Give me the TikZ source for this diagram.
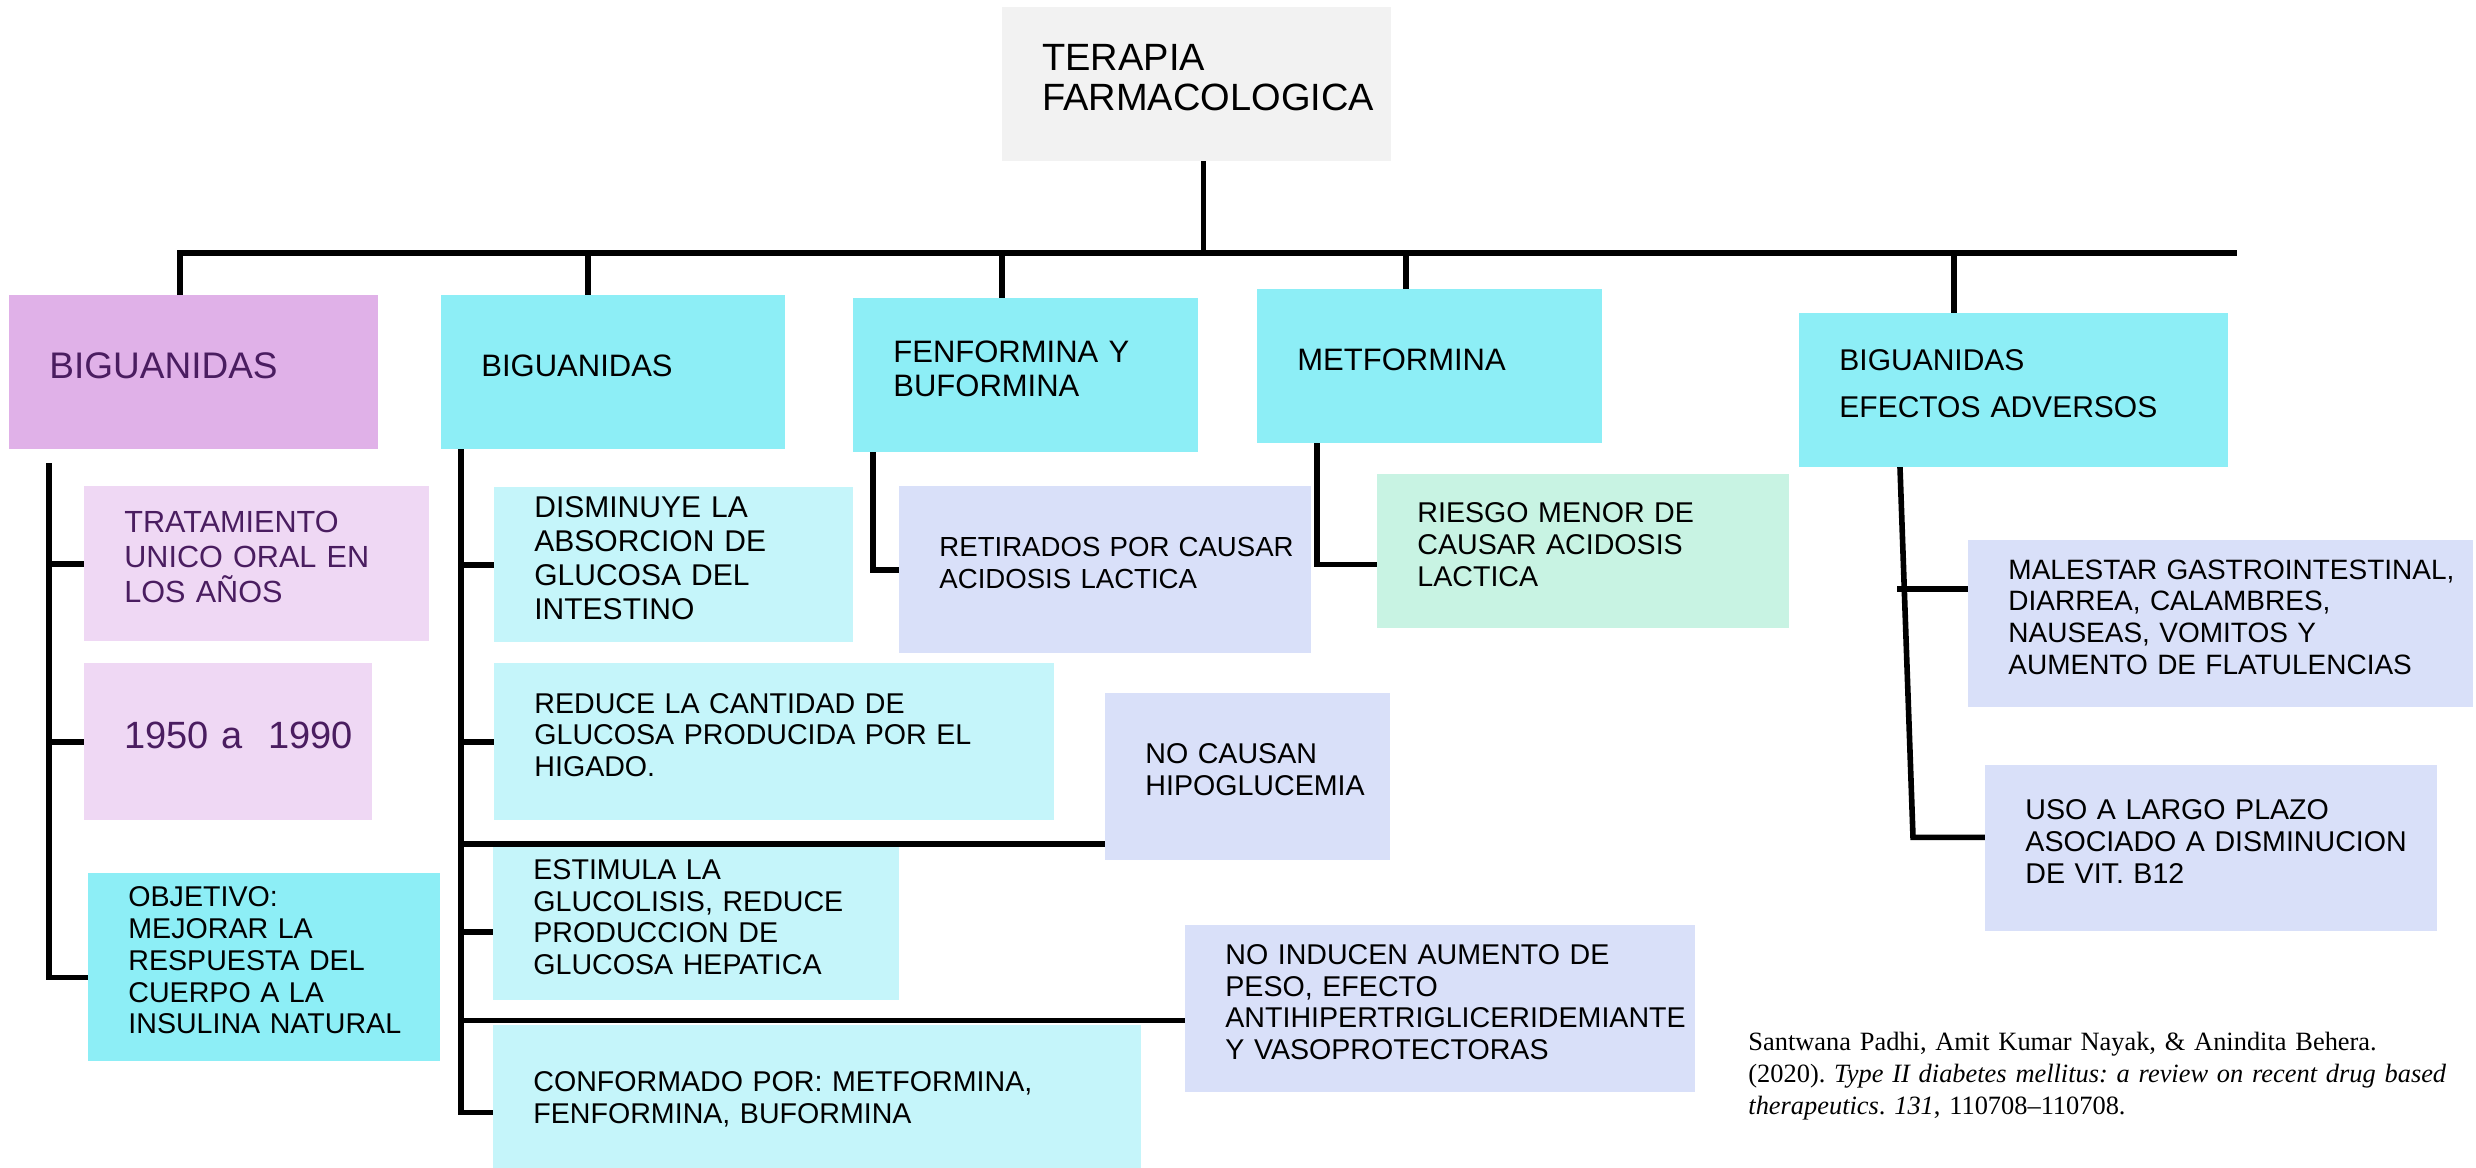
\documentclass[tikz,border=0pt]{standalone}
\usepackage{fontspec}
\setmainfont{Liberation Sans}
\newfontfamily\citefont{Liberation Serif}
\usepackage{xcolor}
\usepackage{tikz}
\usetikzlibrary{backgrounds}
\definecolor{FarmaGray}{HTML}{F2F2F2}
\definecolor{FarmaPurple}{HTML}{E0B1E8}
\definecolor{FarmaLilac}{HTML}{EFD8F4}
\definecolor{FarmaInk}{HTML}{4A1D60}
\definecolor{FarmaCyan}{HTML}{8DEEF6}
\definecolor{FarmaIce}{HTML}{C5F5FA}
\definecolor{FarmaLavender}{HTML}{D9E0F9}
\definecolor{FarmaMint}{HTML}{C8F3E3}
\frenchspacing

\begin{document}
\begin{tikzpicture}[x=0.5pt, y=-0.5pt]
      \tikzset{
        farmabox/.style={rectangle, anchor=north west, inner sep=0pt, font={\fontsize{14.3}{15.9}\selectfont},
          execute at begin node={\raggedright\leftskip=20pt\hyphenpenalty=10000},
          execute at end node={\rule[-7pt]{0pt}{7pt}}},
        boxsize/.style 2 args={text width=#1*0.5pt, minimum width=#1*0.5pt, minimum height=#2*0.5pt},
        headbox/.style={farmabox, fill=FarmaCyan, font={\fontsize{15.5}{17}\selectfont}},
        conn/.style={line width=2.8pt, line cap=rect, draw=black},
        citetext/.style={text width=364pt, align=left, inner sep=0pt, font={\citefont\fontsize{13.2}{16}\selectfont\frenchspacing}}
      }
      \useasboundingbox (0,0) rectangle (2476,1167);

      \node[headbox, boxsize={389}{154}, fill=FarmaGray, font={\fontsize{19}{20}\selectfont}] (terapia) at (1002,7) {TERAPIA\\FARMACOLOGICA};
      \node[headbox, boxsize={369}{154}, fill=FarmaPurple, text=FarmaInk, font={\fontsize{18.5}{20}\selectfont}] (bigA) at (9,295) {BIGUANIDAS};
      \node[headbox, boxsize={344}{154}] (bigB) at (441,295) {BIGUANIDAS};
      \node[headbox, boxsize={345}{154}] (fenbuf) at (853,298) {FENFORMINA Y\\BUFORMINA};
      \node[headbox, boxsize={345}{154}] (metf) at (1257,289) {METFORMINA};
      \node[headbox, boxsize={429}{154}, font={\fontsize{15}{17}\selectfont}] (efectos) at (1799,313) {BIGUANIDAS\\[6.5pt]EFECTOS ADVERSOS};

      \node[farmabox, boxsize={345}{155}, fill=FarmaLilac, text=FarmaInk, font={\fontsize{15.3}{17.5}\selectfont}] (tratam) at (84,486) {TRATAMIENTO\\UNICO ORAL EN\\LOS AÑOS};
      \node[farmabox, boxsize={288}{157}, fill=FarmaLilac, text=FarmaInk, font={\fontsize{19}{20}\selectfont}] (anios) at (84,663) {1950 a\ \ 1990};
      \node[farmabox, boxsize={352}{188}, fill=FarmaCyan] (objetivo) at (88,873) {OBJETIVO:\\MEJORAR LA\\RESPUESTA DEL\\CUERPO A LA\\INSULINA NATURAL};

      \node[farmabox, boxsize={359}{155}, fill=FarmaIce, font={\fontsize{15}{17}\selectfont}] (disminuye) at (494,487) {DISMINUYE LA\\ABSORCION DE\\GLUCOSA DEL\\INTESTINO};
      \node[farmabox, boxsize={560}{157}, fill=FarmaIce] (reduce) at (494,663) {REDUCE LA CANTIDAD DE\\GLUCOSA PRODUCIDA POR EL\\HIGADO.};
      \node[farmabox, boxsize={285}{167}, fill=FarmaLavender] (nocausan) at (1105,693) {NO CAUSAN\\HIPOGLUCEMIA};
      \node[farmabox, boxsize={406}{153}, fill=FarmaIce] (estimula) at (493,847) {ESTIMULA LA\\GLUCOLISIS, REDUCE\\PRODUCCION DE\\GLUCOSA HEPATICA};
      \node[farmabox, boxsize={510}{167}, fill=FarmaLavender] (noinducen) at (1185,925) {NO INDUCEN AUMENTO DE\\PESO, EFECTO\\ANTIHIPERTRIGLICERIDEMIANTE\\Y VASOPROTECTORAS};
      \node[farmabox, boxsize={648}{158}, fill=FarmaIce] (conformado) at (493,1025) {CONFORMADO POR: METFORMINA,\\FENFORMINA, BUFORMINA};

      \node[farmabox, boxsize={412}{167}, fill=FarmaLavender, font={\fontsize{13.8}{15.6}\selectfont}] (retirados) at (899,486) {RETIRADOS POR CAUSAR\\ACIDOSIS LACTICA};
      \node[farmabox, boxsize={412}{154}, fill=FarmaMint] (riesgo) at (1377,474) {RIESGO MENOR DE\\CAUSAR ACIDOSIS\\LACTICA};
      \node[farmabox, boxsize={505}{167}, fill=FarmaLavender, font={\fontsize{14}{15.8}\selectfont}] (malestar) at (1968,540) {MALESTAR GASTROINTESTINAL,\\DIARREA, CALAMBRES,\\NAUSEAS, VOMITOS Y\\AUMENTO DE FLATULENCIAS};
      \node[farmabox, boxsize={452}{166}, fill=FarmaLavender] (uso) at (1985,765) {USO A LARGO PLAZO\\ASOCIADO A DISMINUCION\\DE VIT. B12};

      \node[citetext, anchor=base west] (ref) at (1748,1050) {Santwana Padhi, Amit Kumar Nayak, \& Anindita Behera.\\(2020). \textit{Type II diabetes mellitus: a review on recent drug based}\\\textit{therapeutics}. \textit{131}, 110708–110708.};

      % connectors behind the boxes
      \begin{scope}[on background layer]
        \coordinate (busW) at (180,253);
        \coordinate (busE) at (2234,253);
        \coordinate (tT) at ([xshift=3.25pt]terapia.south);
        \draw[conn] (tT) -- (tT |- busW);
        \draw[conn] (busW) -- (busE);
        \foreach \b/\dx in {bigA/85.5, bigB/73.5, fenbuf/74.5, metf/74.5, efectos/77.5}{
          \coordinate (d\b) at ([xshift=\dx pt]\b.north west);
          \draw[conn] (d\b) -- (d\b |- busW);
        }

        \coordinate (sA) at ([xshift=20pt, yshift=-8pt]bigA.south west);
        \draw[conn] (sA) |- ([yshift=-5pt]objetivo.west);
        \draw[conn] (sA |- tratam.west) -- (tratam.west);
        \draw[conn] (sA |- anios.west) -- (anios.west);

        \coordinate (sB) at ([xshift=10pt]bigB.south west);
        \draw[conn] (sB) |- ([yshift=-4pt]conformado.west);
        \draw[conn] (sB |- disminuye.west) -- (disminuye.west);
        \draw[conn] (sB |- reduce.west) -- (reduce.west);
        \coordinate (stE) at ([yshift=-4pt]estimula.west);
        \draw[conn] (sB |- stE) -- (stE);
        \coordinate (hNC) at ([yshift=8.5pt]nocausan.south west);
        \draw[conn] (sB |- hNC) -- (hNC);
        \coordinate (hNI) at ([yshift=-5.75pt]noinducen.west);
        \draw[conn] (sB |- hNI) -- (hNI);

        \draw[conn] ([xshift=10pt]fenbuf.south west) |- (retirados.west);
        \draw[conn] ([xshift=30pt]metf.south west) |- ([yshift=-6.5pt]riesgo.west);

        \coordinate (sE) at ([xshift=50.5pt]efectos.south west);
        \coordinate (eE) at ([xshift=-36pt, yshift=5.5pt]uso.west);
        \draw[conn] (sE) -- (eE) -- ([yshift=5.5pt]uso.west);
        \coordinate (mS) at ([yshift=17.5pt]malestar.west);
        \draw[conn] (sE |- mS) -- (mS);
      \end{scope}
    \end{tikzpicture}
\end{document}
